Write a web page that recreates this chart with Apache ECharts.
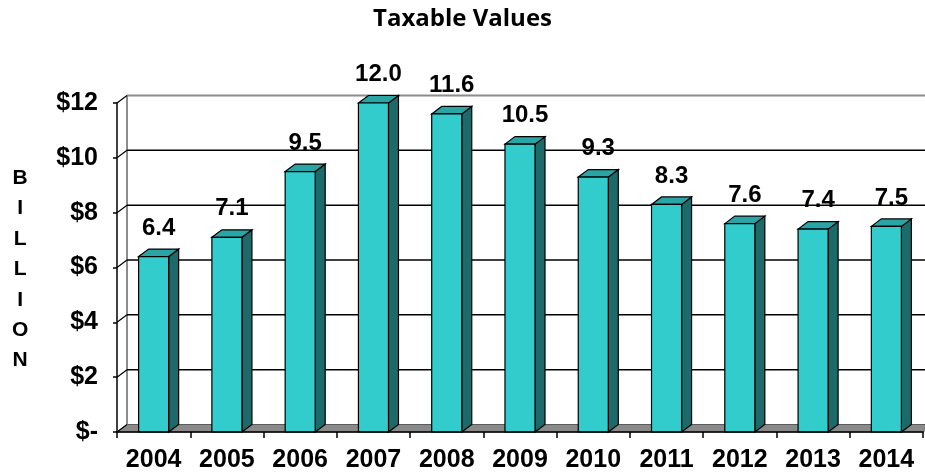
<!DOCTYPE html>
<html>
<head>
<meta charset="utf-8">
<script src="https://cdn.jsdelivr.net/npm/echarts@6/dist/echarts.min.js"></script>
<style>
  html, body { margin: 0; padding: 0; background: #fff; }
  #chart { width: 925px; height: 475px; }
</style>
</head>
<body>
<div id="chart"></div>
<script>
// Taxable values by year, in billions of dollars
const years = ['2004', '2005', '2006', '2007', '2008', '2009', '2010', '2011', '2012', '2013', '2014'];
const taxableValues = [6.4, 7.1, 9.5, 12.0, 11.6, 10.5, 9.3, 8.3, 7.6, 7.4, 7.5];
const yTicks = [0, 2, 4, 6, 8, 10, 12];
const yTickLabels = ['$-', '$2', '$4', '$6', '$8', '$10', '$12'];

// Pseudo-3D depth offset (pixels) for walls and columns
const DX = 10;
const DY = -7.5;
const FONT = '"Liberation Sans", Arial, sans-serif';

const chart = echarts.init(document.getElementById('chart'));

function frameItem(params, api) {
  const n = years.length;
  const bw = api.size([1, 0])[0];
  const x0 = api.coord([0, 0])[0] - bw / 2;
  const x1 = api.coord([n - 1, 0])[0] + bw / 2;
  const yBase = api.coord([0, 0])[1];
  const yTop = api.coord([0, yTicks[yTicks.length - 1]])[1];
  const children = [];
  // floor
  children.push({
    type: 'polygon',
    shape: { points: [[x0, yBase], [x0 + DX, yBase + DY], [x1 + DX, yBase + DY], [x1, yBase]] },
    style: { fill: '#8a8a8a', stroke: '#5a5a5a', lineWidth: 1 }
  });
  // left wall back edge
  children.push({
    type: 'line',
    shape: { x1: x0 + DX, y1: yBase + DY, x2: x0 + DX, y2: yTop + DY },
    style: { stroke: '#8c8c8c', lineWidth: 2 }
  });
  yTicks.forEach((t, i) => {
    const y = api.coord([0, t])[1];
    const last = i === yTicks.length - 1;
    if (t > 0) {
      // back wall gridline
      children.push({
        type: 'line',
        shape: { x1: x0 + DX, y1: y + DY, x2: x1 + DX, y2: y + DY },
        style: { stroke: last ? '#8c8c8c' : '#000', lineWidth: last ? 2 : 1.5 }
      });
    }
    // side wall gridline
    children.push({
      type: 'line',
      shape: { x1: x0, y1: y, x2: x0 + DX, y2: y + DY },
      style: { stroke: '#000', lineWidth: 1.2 }
    });
  });
  return { type: 'group', children: children };
}

function columnItem(params, api) {
  const idx = api.value(0);
  const v = api.value(1);
  const base = api.coord([idx, 0]);
  const top = api.coord([idx, v]);
  const w = api.size([1, 0])[0] * 0.41;
  const l = base[0] - w / 2;
  const r = l + w;
  const ty = top[1];
  const by = base[1];
  return {
    type: 'group',
    children: [
      {
        type: 'polygon',
        shape: { points: [[r, ty], [r + DX, ty + DY], [r + DX, by + DY], [r, by]] },
        style: { fill: '#1d6a6a', stroke: '#000', lineWidth: 1.2 }
      },
      {
        type: 'polygon',
        shape: { points: [[l, ty], [l + DX, ty + DY], [r + DX, ty + DY], [r, ty]] },
        style: { fill: '#2aa5a5', stroke: '#000', lineWidth: 1.2 }
      },
      {
        type: 'rect',
        shape: { x: l, y: ty, width: w, height: by - ty },
        style: { fill: '#33cccc', stroke: '#000', lineWidth: 1.2 }
      },
      {
        type: 'text',
        x: base[0] + DX / 2,
        y: ty + DY - 9,
        style: {
          text: v.toFixed(1),
          textAlign: 'center',
          textVerticalAlign: 'bottom',
          font: 'bold 24px ' + FONT,
          fill: '#000'
        }
      }
    ]
  };
}

chart.setOption({
  animation: false,
  backgroundColor: '#fff',
  title: {
    text: 'Taxable Values',
    left: 'center',
    top: 2,
    textStyle: { fontFamily: '"Open Sans", sans-serif', fontWeight: 'bold', fontSize: 24, color: '#000' }
  },
  grid: { left: 117, right: 2, top: 103, bottom: 43 },
  xAxis: {
    type: 'category',
    data: years,
    boundaryGap: true,
    axisLine: { lineStyle: { color: '#000', width: 1.5 } },
    axisTick: { show: true, length: 6, lineStyle: { color: '#000', width: 1.5 } },
    axisLabel: { margin: 16, color: '#000', fontFamily: FONT, fontWeight: 'bold', fontSize: 25 },
    z: 3
  },
  yAxis: {
    type: 'value',
    min: 0,
    max: 12,
    interval: 2,
    axisLine: { show: true, lineStyle: { color: '#000', width: 1.5 } },
    axisTick: { show: true, length: 4, lineStyle: { color: '#000', width: 1.5 } },
    splitLine: { show: false },
    axisLabel: {
      margin: 19,
      color: '#000',
      fontFamily: FONT,
      fontWeight: 'bold',
      fontSize: 25,
      formatter: (val) => yTickLabels[yTicks.indexOf(val)]
    }
  },
  graphic: [{
    type: 'text',
    left: 12,
    top: 163,
    style: {
      text: 'B\nI\nL\nL\nI\nO\nN',
      textAlign: 'center',
      lineHeight: 30.4,
      font: 'bold 21px ' + FONT,
      fill: '#000'
    }
  }],
  series: [
    {
      type: 'custom',
      name: 'frame',
      renderItem: frameItem,
      data: [[0, 0]],
      z: 1,
      silent: true
    },
    {
      type: 'custom',
      name: 'Taxable Values',
      renderItem: columnItem,
      data: taxableValues.map((v, i) => [i, v]),
      z: 2
    }
  ]
});
</script>
</body>
</html>
